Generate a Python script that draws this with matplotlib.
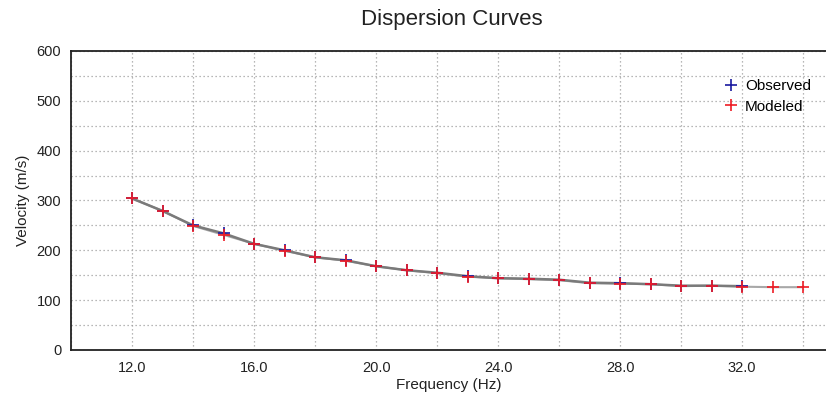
import matplotlib.pyplot as plt
from matplotlib.ticker import MultipleLocator, FormatStrFormatter

# observed dispersion picks
obs_freq = [12, 13, 14, 15, 16, 17, 18, 19, 20, 21, 22, 23, 24, 25, 26, 27, 28, 29, 30, 31, 32]
obs_vel = [304, 279, 250, 234, 213, 200, 186, 180, 168, 160, 155, 148, 144, 143, 141, 135, 134, 132, 129, 129, 128]

# modeled curve
mod_freq = [12, 13, 14, 15, 16, 17, 18, 19, 20, 21, 22, 23, 24, 25, 26, 27, 28, 29, 30, 31, 32, 33, 34]
mod_vel = [304, 279, 249, 231, 213, 199, 186, 179, 168, 160, 154, 147, 144, 142, 140, 134, 133, 132, 128, 129, 127, 126, 126]

plt.rcParams['font.family'] = ['Liberation Sans', 'DejaVu Sans']

fig = plt.figure(figsize=(8.26, 3.95), dpi=100)
ax = fig.add_axes([0.086, 0.114, 0.914, 0.757])

ax.plot(mod_freq, mod_vel, color='#a8a8a8', lw=1.5, zorder=2)
ax.plot(obs_freq, obs_vel, color='#7a7a7a', lw=1.8, zorder=3)
ax.plot(obs_freq, obs_vel, ls='none', marker='+', ms=9, mew=1.2,
        color='#1a1aa0', label='Observed', zorder=4)
ax.plot(mod_freq, mod_vel, ls='none', marker='+', ms=9, mew=1.2,
        color='#ee1c25', label='Modeled', zorder=5)

ax.set_xlim(10, 34.75)
ax.set_ylim(0, 600)
ax.xaxis.set_major_locator(MultipleLocator(4))
ax.xaxis.set_minor_locator(MultipleLocator(2))
ax.xaxis.set_major_formatter(FormatStrFormatter('%.1f'))
ax.yaxis.set_major_locator(MultipleLocator(100))
ax.yaxis.set_minor_locator(MultipleLocator(50))
ax.grid(True, which='both', color='#a0a0a0', ls=(0, (1, 2.2)), lw=0.9)
ax.set_axisbelow(True)
ax.tick_params(which='both', length=0, labelsize=10.5, colors='#222222')
ax.tick_params(axis='y', pad=7)
ax.tick_params(axis='x', pad=8)

for s in ['left', 'bottom', 'top']:
    ax.spines[s].set_color('#222222')
    ax.spines[s].set_linewidth(1.3)
ax.spines['right'].set_visible(False)

ax.set_xlabel('Frequency (Hz)', fontsize=11, color='#222222', labelpad=2)
ax.set_ylabel('Velocity (m/s)', fontsize=11, color='#222222', labelpad=5)
fig.text(0.547, 1 - 25 / 395, 'Dispersion Curves', ha='center', va='baseline',
         fontsize=16, color='#222222')

ax.legend(loc='upper right', bbox_to_anchor=(0.98, 0.905), frameon=False,
          fontsize=11, handlelength=1.0, handletextpad=0.4, labelspacing=0.42,
          borderaxespad=0, borderpad=0)

fig.savefig('out.png', dpi=100)
